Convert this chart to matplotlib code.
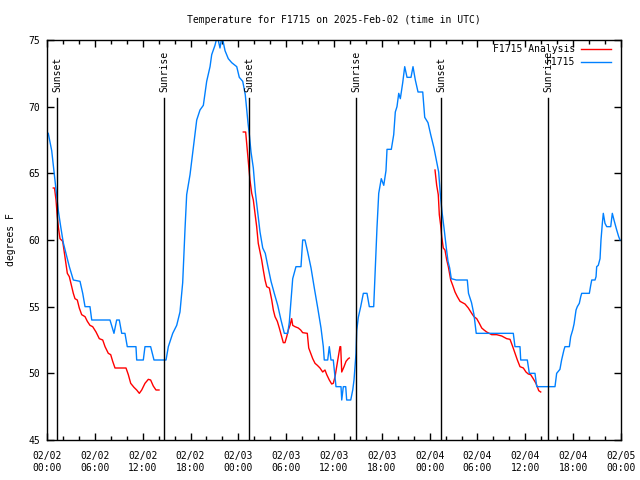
import numpy as np
import matplotlib
matplotlib.use("Agg")
import matplotlib.pyplot as plt
from matplotlib.lines import Line2D

# ---- data (hours since 2025-02-02 00:00 UTC, degrees F) ----
obs_hours = [0.16, 0.59, 0.79, 1.0, 1.22, 1.42, 1.72, 2.04, 2.38, 2.8, 3.3, 4.14, 4.48, 4.77,
             5.39, 5.61, 7.9, 8.4, 8.74, 9.07, 9.37, 9.78, 10.07, 11.16, 11.25, 12.08, 12.29,
             13.0, 13.42, 14.93, 15.22, 15.77, 16.27, 16.68, 17.02, 17.31, 17.52, 17.94, 18.35,
             18.78, 19.19, 19.61, 20.03, 20.45, 20.66, 21.07, 21.36, 21.7, 21.95, 22.33, 22.74,
             23.17, 23.8, 24.12, 24.55, 24.87, 25.21, 25.38, 25.59, 25.88, 26.13, 26.43, 26.72,
             27.06, 27.38, 27.68, 28.1, 28.51, 28.94, 29.35, 29.77, 30.19, 30.39, 30.82, 31.23,
             31.86, 32.07, 32.36, 32.7, 33.12, 33.53, 33.96, 34.37, 34.66, 34.78, 35.21, 35.41,
             35.62, 35.91, 36.13, 36.25, 36.88, 36.97, 37.17, 37.47, 37.59, 38.1, 38.35, 38.51,
             38.63, 38.76, 38.85, 39.05, 39.35, 39.68, 40.14, 40.43, 40.98, 41.18, 41.39, 41.61,
             41.93, 42.24, 42.52, 42.65, 43.19, 43.49, 43.69, 43.9, 44.12, 44.32, 44.62, 44.87,
             45.16, 45.66, 45.91, 46.2, 46.54, 47.13, 47.38, 47.79, 48.13, 48.54, 48.83, 49.13,
             49.34, 49.55, 49.8, 50.09, 50.3, 50.51, 50.71, 51.34, 52.72, 52.87, 53.25, 53.56,
             53.84, 58.49, 58.7, 59.33, 59.42, 60.25, 60.5, 61.21, 61.43, 63.72, 63.93, 64.34,
             64.55, 64.84, 64.97, 65.52, 65.69, 65.94, 66.11, 66.36, 66.52, 66.77, 66.95, 67.07,
             68.03, 68.2, 68.33, 68.74, 68.87, 68.95, 69.15, 69.37, 69.49, 69.66, 69.78, 69.99,
             70.21, 70.71, 70.91, 71.12, 71.46, 71.71, 71.88]
obs_temps = [68.0, 66.7, 65.6, 64.4, 63.2, 62.2, 61.0, 59.8, 59.0, 58.0, 57.0, 56.9, 56.0, 55.0,
             55.0, 54.0, 54.0, 53.0, 54.0, 54.0, 53.0, 53.0, 52.0, 52.0, 51.0, 51.0, 52.0,
             52.0, 51.0, 51.0, 52.0, 53.0, 53.6, 54.6, 56.8, 60.8, 63.4, 64.9, 66.9,
             69.0, 69.75, 70.1, 71.9, 73.0, 73.9, 74.6, 75.3, 74.4, 75.3, 74.2, 73.6,
             73.3, 73.0, 72.2, 71.9, 70.9, 68.8, 67.9, 66.6, 65.4, 63.6, 62.1, 60.6,
             59.4, 59.0, 58.1, 56.9, 56.0, 55.1, 54.0, 53.0, 53.0, 53.8, 57.1, 58.0,
             58.0, 60.0, 60.0, 59.1, 57.9, 56.4, 54.9, 53.4, 52.0, 51.0, 51.0, 52.0,
             51.0, 51.0, 49.7, 49.0, 49.0, 48.0, 49.0, 49.0, 48.0, 48.0, 48.75, 49.5,
             50.5, 51.5, 53.2, 54.2, 55.0, 56.0, 56.0, 55.0, 55.0, 57.9, 60.9, 63.5,
             64.6, 64.1, 65.2, 66.8, 66.8, 67.9, 69.6, 70.0, 71.0, 70.6, 71.8, 73.0,
             72.2, 72.2, 73.0, 72.0, 71.1, 71.1, 69.2, 68.8, 67.9, 66.9, 66.0, 65.1,
             63.4, 62.1, 60.9, 59.4, 58.4, 57.9, 57.1, 57.0, 57.0, 56.0, 55.3, 54.4,
             53.0, 53.0, 52.0, 52.0, 51.0, 51.0, 50.0, 50.0, 49.0, 49.0, 50.0, 50.3,
             51.0, 51.75, 52.0, 52.0, 52.75, 53.25, 53.7, 54.75, 55.0, 55.25, 55.75, 56.0,
             56.0, 56.6, 57.0, 57.0, 57.25, 58.0, 58.1, 58.6, 60.0, 61.25, 62.0, 61.25,
             61.0, 61.0, 62.0, 61.5, 60.75, 60.25, 60.0]

nan = float("nan")
ana_hours = [0.79, 0.94, 1.13, 1.29, 1.42, 1.63, 1.97, 2.13, 2.38, 2.55, 2.8, 3.1, 3.3, 3.51,
             3.8, 4.05, 4.35, 4.77, 5.06, 5.39, 5.73, 6.15, 6.56, 6.99, 7.28, 7.69, 7.99, 8.24,
             8.53, 9.91, 10.2, 10.5, 10.91, 11.25, 11.58, 11.88, 12.29, 12.71, 13.0, 13.33,
             13.67, 14.05, 19.0,
             24.62, 24.92, 25.05, 25.25, 25.46, 25.68, 25.88, 26.09, 26.3, 26.5, 26.72, 26.93,
             27.13, 27.35, 27.56, 27.89, 28.19, 28.39, 28.6, 28.89, 29.14, 29.44, 29.64, 29.85,
             30.07, 30.27, 30.48, 30.69, 30.82, 31.11, 31.52, 31.82, 32.07, 32.65, 32.83, 33.08,
             33.33, 33.62, 33.91, 34.24, 34.58, 34.87, 35.09, 35.41, 35.71, 35.91, 36.13, 36.34,
             36.54, 36.75, 36.84, 36.97, 37.26, 37.51, 37.79, 37.92, 43.0,
             48.67, 48.88, 49.08, 49.21, 49.38, 49.51, 49.71, 49.92, 50.14, 50.34, 50.64, 50.89,
             51.18, 51.47, 51.81, 52.43, 52.85, 53.27, 53.56, 53.9, 54.23, 54.53, 54.82, 55.15,
             55.78, 56.41, 57.04, 57.66, 58.08, 58.42, 58.71, 59.0, 59.33, 59.75, 60.08, 60.37,
             60.67, 60.99, 61.33, 61.5, 61.68, 61.93]
ana_temps = [63.9, 63.9, 63.0, 61.75, 61.0, 60.1, 59.9, 59.25, 58.25, 57.5, 57.25, 56.5, 56.0, 55.6,
             55.5, 54.9, 54.4, 54.25, 53.9, 53.6, 53.5, 53.1, 52.6, 52.5, 52.0, 51.5, 51.4, 50.9,
             50.4, 50.4, 49.9, 49.25, 48.95, 48.75, 48.5, 48.75, 49.25, 49.55, 49.5, 49.05,
             48.75, 48.75, nan,
             68.1, 68.1, 67.25, 65.9, 64.5, 63.5, 63.0, 62.0, 61.0, 59.75, 59.1, 58.5,
             57.75, 57.0, 56.5, 56.4, 55.5, 54.75, 54.25, 53.9, 53.4, 52.75, 52.3, 52.3,
             52.75, 53.25, 53.6, 54.1, 53.6, 53.5, 53.4, 53.25, 53.05, 53.0, 51.9, 51.5,
             51.1, 50.75, 50.6, 50.4, 50.1, 50.25, 49.9, 49.5, 49.2, 49.25, 49.75, 50.5,
             51.25, 52.0, 52.0, 50.1, 50.5, 50.9, 51.1, 51.15, nan,
             65.25, 64.1, 63.4, 61.9, 61.1, 60.25, 59.4, 59.25, 58.5, 58.0, 57.0, 56.6,
             56.1, 55.75, 55.4, 55.2, 54.9, 54.5, 54.25, 54.1, 53.75, 53.4, 53.25, 53.1,
             52.9, 52.9, 52.8, 52.6, 52.55, 52.0, 51.5, 51.0, 50.5, 50.4, 50.1, 49.95,
             49.9, 49.6, 49.25, 49.0, 48.7, 48.6]

sun_hours = [1.25, 14.71, 25.34, 38.76, 49.42, 62.85]
sun_labels = ["Sunset", "Sunrise", "Sunset", "Sunrise", "Sunset", "Sunrise"]

tick_hours = list(range(0, 73, 6))
tick_labels = ["02/02\n00:00", "02/02\n06:00", "02/02\n12:00", "02/02\n18:00",
               "02/03\n00:00", "02/03\n06:00", "02/03\n12:00", "02/03\n18:00",
               "02/04\n00:00", "02/04\n06:00", "02/04\n12:00", "02/04\n18:00",
               "02/05\n00:00"]
y_ticks = [45, 50, 55, 60, 65, 70, 75]

title = "Temperature for F1715 on 2025-Feb-02 (time in UTC)"
ylabel = "degrees F"
series_names = ["F1715 Analysis", "F1715"]

RED = "#ff0000"
BLUE = "#0080ff"

plt.rcParams["font.family"] = ["DejaVu Sans Mono", "DejaVu Sans"]
plt.rcParams["font.size"] = 7

fig = plt.figure(figsize=(6.4, 4.8), dpi=100)
ax = fig.add_axes([47 / 640, 40 / 480, 574 / 640, 400 / 480])

ax.plot(ana_hours, ana_temps, color=RED, lw=1.0)
ax.plot(obs_hours, obs_temps, color=BLUE, lw=1.0)

for h, lab in zip(sun_hours, sun_labels):
    ax.plot([h, h], [45, 70.65], color="black", lw=1.0)
    ax.text(h, 71.1, lab, rotation=90, ha="center", va="bottom", fontsize=7)

ax.set_xlim(0, 72)
ax.set_ylim(45, 75)
ax.set_xticks(tick_hours)
ax.set_xticklabels(tick_labels)
ax.set_xticks(list(range(0, 73, 2)), minor=True)
ax.set_yticks(y_ticks)
ax.tick_params(which="both", direction="in", top=True, right=True, width=1.0,
               labelsize=7, colors="black")
ax.tick_params(which="major", length=5, pad=5)
ax.tick_params(axis="x", which="major", pad=8)
ax.tick_params(which="minor", length=3)
for s in ax.spines.values():
    s.set_linewidth(1.0)
    s.set_color("black")

ax.set_title(title, fontsize=7, pad=12)
ax.set_ylabel(ylabel, fontsize=7, labelpad=9)

# legend (gnuplot style: right-justified text, sample to the right)
for i, (name, col) in enumerate(zip(series_names, [RED, BLUE])):
    yf = 1 - (9 + 13 * i) / 400
    ax.text(1 - 46 / 574, yf, name, transform=ax.transAxes, ha="right", va="center", fontsize=7)
    ax.add_line(Line2D([1 - 40 / 574, 1 - 10 / 574], [yf, yf], transform=ax.transAxes,
                       color=col, lw=1.0))

fig.savefig("out.png", dpi=100)
